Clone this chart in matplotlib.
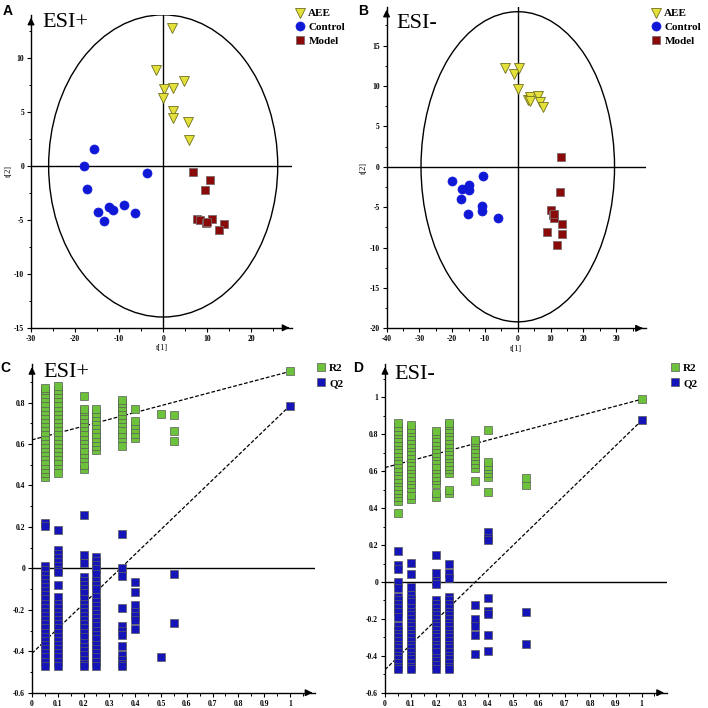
import matplotlib
matplotlib.use('Agg')
import matplotlib.pyplot as plt
from matplotlib.patches import Ellipse
from matplotlib.ticker import MultipleLocator, AutoMinorLocator, FuncFormatter

# ---- score plot data (A: ESI+, B: ESI-) ----
a_aee_x = [2.0, -1.6, 4.8, 0.15, 2.2, -0.15, 2.3, 2.3, 5.6, 5.9]
a_aee_y = [12.8, 8.85, 7.9, 7.1, 7.2, 6.3, 5.1, 4.4, 4.1, 2.4]
a_ctrl_x = [-15.6, -17.9, -3.6, -17.4, -8.9, -12.2, -11.3, -14.7, -6.5, -13.5]
a_ctrl_y = [1.6, 0.0, -0.7, -2.1, -3.6, -3.8, -4.1, -4.3, -4.4, -5.1]
a_model_x = [6.7, 10.6, 9.4, 7.7, 8.3, 9.8, 11.1, 13.8, 12.6, 9.85]
a_model_y = [-0.56, -1.3, -2.2, -4.9, -5.0, -5.3, -4.9, -5.4, -5.9, -5.15]

b_aee_x = [-4.0, -1.3, 0.3, 0.0, 3.0, 3.7, 3.7, 6.3, 6.8, 7.6]
b_aee_y = [12.2, 11.5, 12.2, 9.6, 8.3, 8.6, 8.2, 8.8, 8.0, 7.4]
b_ctrl_x = [-19.9, -10.6, -14.9, -16.9, -14.9, -17.2, -10.8, -11.0, -15.2, -5.9]
b_ctrl_y = [-1.7, -1.2, -2.2, -2.8, -2.9, -4.0, -4.8, -5.45, -5.9, -6.3]
b_model_x = [13.3, 12.8, 10.2, 10.6, 11.1, 13.4, 13.5, 9.0, 12.0, 10.9]
b_model_y = [1.2, -3.1, -5.4, -6.0, -6.4, -7.1, -8.3, -8.05, -9.7, -5.8]

# ellipse half-widths (Hotelling T2)
a_ellipse = (26.0, 14.0)
b_ellipse = (29.5, 19.2)

# ---- permutation test data (C: ESI+, D: ESI-) ----
perm_x = [0.05, 0.1, 0.2, 0.25, 0.35, 0.4, 0.5, 0.55, 1.0]

c_r2 = [
    [0.44, 0.46, 0.48, 0.5, 0.52, 0.54, 0.56, 0.58, 0.6, 0.62, 0.64, 0.66, 0.68,
     0.7, 0.72, 0.74, 0.76, 0.78, 0.8, 0.82, 0.84, 0.86, 0.87],
    [0.46, 0.5, 0.52, 0.54, 0.56, 0.58, 0.6, 0.62, 0.64, 0.66, 0.68, 0.7, 0.72,
     0.74, 0.76, 0.78, 0.8, 0.82, 0.84, 0.86, 0.88],
    [0.48, 0.5, 0.53, 0.55, 0.57, 0.6, 0.62, 0.64, 0.66, 0.68, 0.7, 0.72, 0.74,
     0.76, 0.77, 0.83],
    [0.57, 0.59, 0.61, 0.63, 0.65, 0.67, 0.69, 0.71, 0.73, 0.75, 0.77],
    [0.59, 0.63, 0.65, 0.67, 0.7, 0.72, 0.74, 0.76, 0.78, 0.8, 0.81],
    [0.63, 0.65, 0.67, 0.69, 0.71, 0.77],
    [0.745],
    [0.615, 0.665, 0.74],
    [0.95],
]
c_q2 = [
    [0.22, 0.205, 0.01, -0.01, -0.03, -0.05, -0.07, -0.09, -0.11, -0.13, -0.15, -0.17,
     -0.19, -0.21, -0.23, -0.25, -0.27, -0.29, -0.31, -0.33, -0.35, -0.37, -0.39,
     -0.41, -0.43, -0.45, -0.47],
    [0.185, 0.09, 0.07, 0.05, 0.03, 0.01, -0.01, -0.02, -0.08, -0.14, -0.17, -0.19,
     -0.21, -0.23, -0.25, -0.27, -0.29, -0.31, -0.33, -0.35, -0.37, -0.39, -0.41,
     -0.43, -0.45, -0.47],
    [0.255, 0.065, 0.025, -0.04, -0.06, -0.08, -0.1, -0.12, -0.15, -0.17, -0.19,
     -0.21, -0.23, -0.25, -0.27, -0.29, -0.31, -0.33, -0.36, -0.38, -0.4, -0.42,
     -0.44, -0.46, -0.47],
    [0.055, 0.035, 0.015, -0.005, -0.025, -0.06, -0.08, -0.1, -0.14, -0.16, -0.18,
     -0.2, -0.22, -0.24, -0.26, -0.28, -0.3, -0.32, -0.34, -0.37, -0.39, -0.41,
     -0.43, -0.45, -0.47],
    [0.165, 0.0, -0.035, -0.19, -0.28, -0.3, -0.32, -0.375, -0.42, -0.44, -0.46, -0.47],
    [-0.065, -0.115, -0.175, -0.21, -0.23, -0.25, -0.295],
    [-0.43],
    [-0.025, -0.265],
    [0.785],
]
c_r2_line = [0.62, 0.95]
c_q2_line = [-0.41, 0.785]

d_r2 = [
    [0.375, 0.44, 0.46, 0.48, 0.5, 0.52, 0.54, 0.56, 0.58, 0.6, 0.62, 0.64, 0.66,
     0.68, 0.7, 0.72, 0.74, 0.76, 0.78, 0.8, 0.82, 0.84, 0.86],
    [0.45, 0.47, 0.51, 0.53, 0.55, 0.57, 0.59, 0.61, 0.63, 0.65, 0.67, 0.69, 0.71,
     0.73, 0.75, 0.77, 0.79, 0.81, 0.83, 0.85],
    [0.46, 0.48, 0.53, 0.55, 0.57, 0.59, 0.61, 0.63, 0.66, 0.68, 0.7, 0.72, 0.74,
     0.76, 0.78, 0.8, 0.82],
    [0.48, 0.5, 0.59, 0.61, 0.63, 0.65, 0.67, 0.69, 0.71, 0.73, 0.75, 0.77, 0.79,
     0.81, 0.83, 0.85, 0.86],
    [0.545, 0.62, 0.64, 0.66, 0.68, 0.7, 0.72, 0.74, 0.76, 0.77],
    [0.485, 0.57, 0.59, 0.61, 0.63, 0.65, 0.825],
    [],
    [0.525, 0.565],
    [0.99],
]
d_q2 = [
    [0.17, 0.09, 0.07, 0.0, -0.03, -0.08, -0.1, -0.12, -0.14, -0.16, -0.19, -0.24,
     -0.26, -0.28, -0.3, -0.32, -0.34, -0.36, -0.38, -0.4, -0.42, -0.44, -0.46, -0.47],
    [0.105, 0.045, -0.025, -0.07, -0.09, -0.11, -0.14, -0.16, -0.18, -0.2, -0.22,
     -0.24, -0.26, -0.28, -0.3, -0.32, -0.34, -0.36, -0.38, -0.4, -0.42, -0.44,
     -0.46, -0.47],
    [0.145, 0.05, 0.005, -0.01, -0.1, -0.12, -0.14, -0.16, -0.18, -0.2, -0.22,
     -0.24, -0.26, -0.28, -0.3, -0.32, -0.34, -0.36, -0.38, -0.41, -0.43, -0.45, -0.47],
    [0.1, 0.05, 0.02, -0.08, -0.1, -0.12, -0.14, -0.16, -0.18, -0.2, -0.22, -0.24,
     -0.26, -0.28, -0.3, -0.32, -0.34, -0.36, -0.38, -0.4, -0.42, -0.44, -0.46, -0.47],
    [-0.125, -0.2, -0.24, -0.285, -0.39],
    [0.27, 0.24, 0.225, -0.085, -0.155, -0.175, -0.29, -0.375],
    [],
    [-0.165, -0.335],
    [0.875],
]
d_r2_line = [0.62, 0.99]
d_q2_line = [-0.475, 0.875]

TICK_FONT = {'family': 'Liberation Serif', 'weight': 'bold', 'size': 5.5}
BIG_FONT = {'family': 'Liberation Serif', 'size': 16}
LEG_FONT = {'family': 'Liberation Serif', 'weight': 'bold', 'size': 8}

C_AEE = '#E4E03A'
C_CTRL = '#1018D8'
C_MODEL = '#8A0A0A'
C_R2 = '#6CC23A'
C_Q2 = '#1414B8'

fig = plt.figure(figsize=(7.08, 7.08), dpi=100)
fmt = FuncFormatter(lambda v, p: '%g' % round(v, 3))


def style_axes(ax, xlim, ylim, xmaj, ymaj):
    ax.set_xlim(*xlim)
    ax.set_ylim(*ylim)
    ax.spines['top'].set_visible(False)
    ax.spines['right'].set_visible(False)
    for s in ('left', 'bottom'):
        ax.spines[s].set_linewidth(1.0)
    ax.xaxis.set_major_locator(MultipleLocator(xmaj))
    ax.yaxis.set_major_locator(MultipleLocator(ymaj))
    ax.xaxis.set_minor_locator(AutoMinorLocator(2))
    ax.yaxis.set_minor_locator(AutoMinorLocator(2))
    ax.xaxis.set_major_formatter(fmt)
    ax.yaxis.set_major_formatter(fmt)
    ax.tick_params(which='major', length=3, width=0.8, pad=2)
    ax.tick_params(which='minor', length=1.8, width=0.7)
    for lab in ax.get_xticklabels() + ax.get_yticklabels():
        lab.set_fontfamily('Liberation Serif')
        lab.set_fontweight('bold')
        lab.set_fontsize(5.5)
    # arrow heads at the axis ends
    ax.annotate('', xy=(1.0, 0), xytext=(0.97, 0), xycoords='axes fraction',
                arrowprops=dict(arrowstyle='-|>', color='black', lw=1,
                                mutation_scale=10), annotation_clip=False)
    ax.annotate('', xy=(0, 1.0), xytext=(0, 0.97), xycoords='axes fraction',
                arrowprops=dict(arrowstyle='-|>', color='black', lw=1,
                                mutation_scale=10), annotation_clip=False)
    ax.axhline(0, color='black', lw=1)


def add_legend(ax, anchor, spacing, hlen):
    ax.legend(loc='upper left', bbox_to_anchor=anchor, bbox_transform=fig.transFigure,
              frameon=False, prop=LEG_FONT, handletextpad=0.25, labelspacing=spacing,
              handlelength=hlen, borderaxespad=0)


def score_plot(rect, aee, ctrl, model, ell, xlim, ylim, title, title_pos, leg_pos, letter):
    ax = fig.add_axes(rect)
    style_axes(ax, xlim, ylim, 10, 5)
    ax.axvline(0, color='black', lw=1)
    ax.add_patch(Ellipse((0, 0), 2 * ell[0], 2 * ell[1], fill=False,
                         edgecolor='black', lw=1))
    ax.plot(aee[0], aee[1], linestyle='none', marker='v', ms=6.5,
            mfc=C_AEE, mec='#707020', mew=0.6, label='AEE')
    ax.plot(ctrl[0], ctrl[1], linestyle='none', marker='o', ms=6.5,
            mfc=C_CTRL, mec=C_CTRL, mew=0.5, label='Control')
    ax.plot(model[0], model[1], linestyle='none', marker='s', ms=6.3,
            mfc=C_MODEL, mec='#7a6a6a', mew=0.6, label='Model')
    ax.set_xlabel('t[1]', fontfamily='Liberation Serif', fontsize=6, labelpad=1)
    ax.set_ylabel('t[2]', fontfamily='Liberation Serif', fontsize=6, labelpad=1)
    fig.text(title_pos[0], title_pos[1], title, ha='left', va='baseline', **BIG_FONT)
    add_legend(ax, leg_pos, 0.35, 1.0)
    fig.text(rect[0] - 0.04, 0.995, letter, ha='left', va='top',
             fontfamily='Liberation Sans', fontweight='bold', fontsize=10)
    return ax


def perm_plot(rect, r2, q2, r2_line, q2_line, ylim, title, title_pos, leg_pos, letter):
    ax = fig.add_axes(rect)
    style_axes(ax, (0, 1.098), ylim, 0.1, 0.2)
    ax.plot([0, 1], r2_line, color='black', lw=0.9, ls=(0, (3, 1.5)))
    ax.plot([0, 1], q2_line, color='black', lw=0.9, ls=(0, (3, 1.5)))
    for i, xv in enumerate(perm_x):
        lab_r = 'R2' if i == 0 else None
        lab_q = 'Q2' if i == 0 else None
        ax.plot([xv] * len(r2[i]), r2[i], linestyle='none', marker='s', ms=5.2,
                mfc=C_R2, mec='#5a5a5a', mew=0.5, label=lab_r)
        ax.plot([xv] * len(q2[i]), q2[i], linestyle='none', marker='s', ms=5.2,
                mfc=C_Q2, mec='#5a5a5a', mew=0.5, label=lab_q)
    fig.text(title_pos[0], title_pos[1], title, ha='left', va='baseline', **BIG_FONT)
    add_legend(ax, leg_pos, 0.5, 0.9)
    fig.text(rect[0] - 0.045, rect[1] + rect[3] + 0.005, letter, ha='left', va='top',
             fontfamily='Liberation Sans', fontweight='bold', fontsize=10)
    return ax


score_plot([0.0438, 0.537, 0.369, 0.442], (a_aee_x, a_aee_y), (a_ctrl_x, a_ctrl_y),
           (a_model_x, a_model_y), a_ellipse, (-30, 29.3), (-15, 14.0), 'ESI+',
           (0.0593, 0.9619), (0.4096, 0.994), 'A')
score_plot([0.546, 0.5363, 0.366, 0.454], (b_aee_x, b_aee_y), (b_ctrl_x, b_ctrl_y),
           (b_model_x, b_model_y), b_ellipse, (-40, 39.0), (-20, 19.8), 'ESI-',
           (0.5605, 0.9605), (0.9124, 0.994), 'B')
perm_plot([0.0452, 0.0216, 0.40, 0.464], c_r2, c_q2, c_r2_line, c_q2_line,
          (-0.6, 0.985), 'ESI+', (0.0607, 0.4675), (0.4407, 0.4935), 'C')
perm_plot([0.5438, 0.0216, 0.398, 0.464], d_r2, d_q2, d_r2_line, d_q2_line,
          (-0.6, 1.18), 'ESI-', (0.5565, 0.4647), (0.9407, 0.4935), 'D')

fig.savefig('out.png', dpi=100, facecolor='white')
plt.close(fig)
